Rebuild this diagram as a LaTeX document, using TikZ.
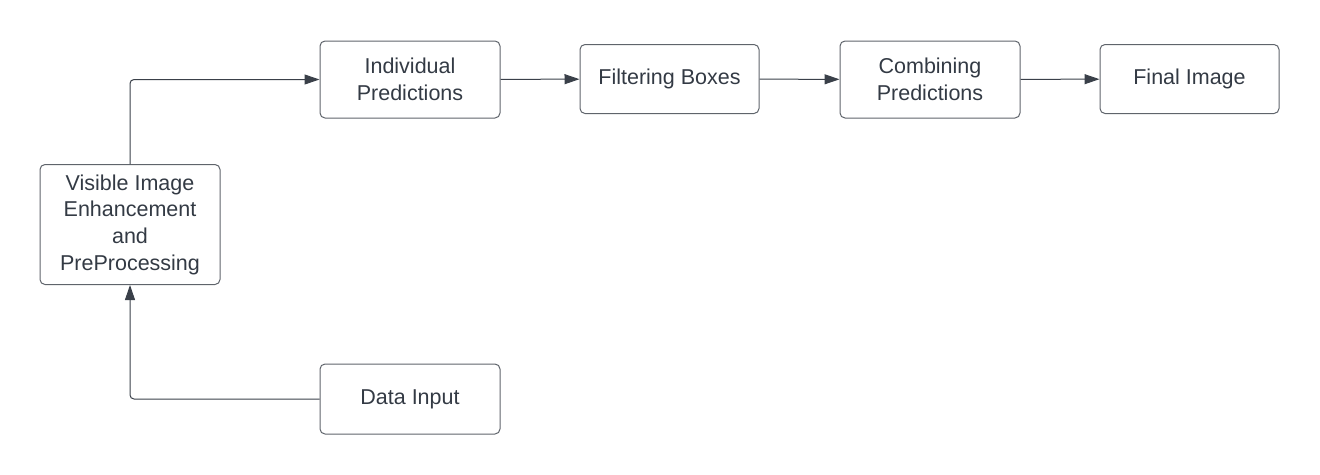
\documentclass[tikz,border=0pt]{standalone}
\usepackage{fontspec}
\setmainfont{Liberation Sans}
\usetikzlibrary{arrows.meta}
\definecolor{boxline}{HTML}{5F646B}
\definecolor{arrline}{HTML}{3A4049}
\definecolor{txt}{HTML}{333A44}

\begin{document}
\begin{tikzpicture}[x=1pt,y=-1pt,
        box/.style={draw=boxline,line width=1pt,rounded corners=5pt,align=center,
            text=txt,font=\fontsize{21.5}{26.7}\selectfont,inner sep=0pt},
        arr/.style={-{Triangle[length=15pt,width=10pt]},draw=arrline,line width=1pt}]
        \useasboundingbox (0,0) rectangle (1320,474);

        % 绘制方框
        \node[box,minimum width=180,minimum height=120] (vis) at (130,224.5) {Visible Image\\Enhancement\\and\\PreProcessing};
        \node[box,minimum width=180,minimum height=77] (ind) at (410,79.5) {Individual\\Predictions};
        \node[box,minimum width=179,minimum height=69] (filt) at (669.5,79) {Filtering Boxes};
        \node[box,minimum width=180,minimum height=77] (comb) at (930,79.5) {Combining\\Predictions};
        \node[box,minimum width=179,minimum height=69] (fin) at (1189.5,79) {Final Image};
        \node[box,minimum width=180,minimum height=70] (data) at (410,399) {Data Input};

        % 绘制箭头
        \draw[arr,rounded corners=4pt] (data.west) -| (vis.south);
        \draw[arr,rounded corners=4pt] (vis.north) |- (ind.west);
        \draw[arr] (ind) -- (filt);
        \draw[arr] (filt) -- (comb);
        \draw[arr] (comb) -- (fin);
    \end{tikzpicture}
\end{document}
